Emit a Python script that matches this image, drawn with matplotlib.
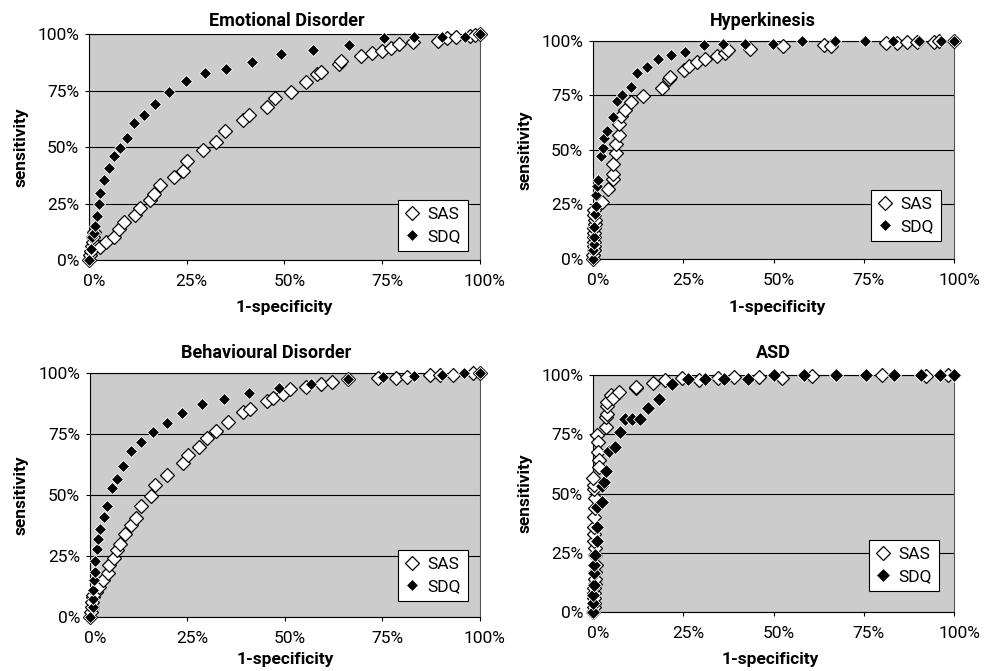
import matplotlib
matplotlib.use("Agg")
import matplotlib.pyplot as plt
from matplotlib.ticker import PercentFormatter, FixedLocator
from matplotlib.transforms import ScaledTranslation

plt.rcParams['font.family'] = ['Roboto', 'DejaVu Sans']

# ROC points: (1-specificity %, sensitivity %)
emo_sas_x = [0, 0.3, 0.5, 0.7, 0.9, 1.1, 1.3, 2.7, 4.3, 6.4, 7.6, 9.0, 11.9, 13.0, 15.7, 16.6, 18.1,
             21.8, 24.0, 25.1, 29.2, 32.6, 34.7, 39.4, 40.9, 45.6, 47.5, 51.6, 55.4, 58.4, 59.3,
             63.9, 64.6, 69.5, 72.5, 75.0, 77.4, 79.2, 83.0, 89.2, 91.5, 93.9, 97.4, 98.7, 100]
emo_sas_y = [0, 2, 4, 6, 8, 10, 12.5, 5.9, 7.8, 10.3, 13.6, 17.0, 19.9, 22.9, 26.6, 29.1, 33.1,
             36.6, 39.4, 43.9, 48.7, 52.4, 57.2, 62.0, 64.3, 67.9, 71.9, 74.3, 78.6, 82.4, 83.2,
             86.9, 88.2, 90.4, 91.6, 92.6, 93.8, 95.6, 96.3, 96.9, 98.1, 98.7, 99.0, 99.7, 100]
emo_sdq_x = [0, 0.5, 0.8, 1.2, 1.6, 2.0, 2.5, 2.9, 3.8, 5.0, 6.3, 8.0, 9.6, 11.6, 14.2, 17.0, 20.4,
             24.7, 29.7, 35.0, 41.7, 49.2, 57.4, 66.5, 75.4, 83.2, 90.3, 96.2, 100]
emo_sdq_y = [0, 5, 10, 12, 15, 19.5, 25, 29.5, 35.3, 40.8, 46, 49.6, 53.8, 60.7, 64.3, 69, 74.4,
             79.2, 82.9, 84.5, 87.4, 91.1, 92.8, 95.1, 98.1, 98.8, 98.8, 98.8, 100]

hyp_sas_x = [0, 0.1, 0.2, 0.2, 0.3, 0.3, 0.4, 0.4, 0.5, 0.5, 0.3, 0.2, 2.6, 4.2, 5.4, 5.4, 5.4, 6.3,
             6.5, 7.1, 7.3, 7.7, 8.8, 10.4, 13.9, 19.2, 21.1, 21.2, 25.2, 26.6, 28.9, 31.0, 34.2,
             36.5, 37.5, 43.6, 52.6, 64.0, 65.8, 81.2, 84.3, 87.0, 89.7, 94.5, 95.8, 100]
hyp_sas_y = [0, 2, 4, 6, 8, 10, 12, 14, 16, 18, 20, 22.5, 26.2, 32.2, 36.8, 39.0, 43.5, 48.7,
             52.8, 57.0, 61.9, 65.4, 68.5, 71.8, 74.9, 78.4, 82.5, 83.5, 86.8, 88.4, 90.5, 91.7, 93.0,
             94.5, 96.0, 96.3, 97.5, 98.2, 97.9, 98.9, 98.9, 99.4, 99.4, 99.4, 100, 100]
hyp_sdq_x = [0, 0.1, 0.2, 0.3, 0.3, 0.6, 0.7, 0.7, 1.2, 1.5, 2.2, 2.7, 3.0, 4.0, 5.4, 6.6, 8.0,
             10.4, 12.1, 14.9, 18.1, 21.5, 25.5, 30.6, 36.0, 42.2, 49.9, 58.0, 67.0, 75.3, 83.1,
             90.4, 96.5, 100]
hyp_sdq_y = [0, 4, 7, 10, 14.5, 20.5, 24.5, 29.4, 33.7, 36.3, 47.3, 51.0, 55.3, 58.8, 65.2, 72.6,
             75.3, 79.0, 85.3, 87.9, 91.7, 93.4, 95.1, 98.2, 98.6, 98.8, 98.8, 100, 100, 100, 100,
             100, 100, 100]

beh_sas_x = [0, 0.3, 0.4, 0.6, 0.7, 0.9, 1.5, 2.2, 3.4, 4.5, 5.0, 6.2, 7.0, 7.7, 9.0, 10.5, 11.8,
             13.2, 15.6, 16.7, 19.8, 23.8, 25.2, 28.0, 29.9, 32.3, 35.5, 39.3, 41.0, 45.3, 47.0,
             49.6, 51.3, 55.4, 59.2, 62.0, 66.2, 73.9, 78.6, 81.2, 87.2, 89.7, 93.2, 98.3, 100]
beh_sas_y = [0, 2, 4, 6, 8, 9, 10.2, 12.3, 15.3, 18.0, 21.2, 24.2, 27.3, 29.9, 34.0, 37.8, 40.7,
             45.6, 49.6, 54.0, 58.3, 63.1, 66.3, 69.7, 73.5, 76.4, 79.9, 84.0, 85.1, 88.4, 89.8,
             91.3, 93.3, 94.3, 95.6, 96.4, 97.7, 97.9, 97.9, 98.5, 99.3, 99.3, 99.3, 100, 100]
beh_sdq_x = [0, 0.7, 0.9, 0.9, 1.0, 1.3, 1.3, 1.7, 2.1, 2.6, 3.6, 4.4, 5.6, 7.0, 8.5, 10.4, 13.2,
             16.2, 19.8, 23.7, 28.8, 34.4, 40.7, 48.5, 56.8, 66.2, 75.2, 83.0, 90.3, 96.0, 100]
beh_sdq_y = [0, 4, 7.5, 11, 15, 18.4, 23, 28, 31.8, 36.2, 40.8, 45.5, 53, 56.4, 61.9, 68, 71.7,
             75.8, 79.5, 83.7, 87.3, 89.2, 91.7, 93.9, 95.6, 97.7, 98.2, 98.9, 99.3, 100, 100]

asd_sas_x = [0, 0.2, 0.3, 0.3, 0.4, 0.4, 0.5, 0.5, 0.6, 0.7, 0.6, 0.5, 0.4, 0.3, 0.3, 0.4, 0.5,
             0.5, 0.4, 0.3, 0.1, 1.2, 1.5, 1.5, 1.7, 1.7, 3.5, 3.5, 3.8, 3.8, 4.0, 4.9, 5.4, 7.2,
             11.8, 12.0, 16.5, 20.0, 24.6, 29.4, 34.5, 39.1, 46.1, 52.4, 60.7, 80.1, 92.1, 98.3]
asd_sas_y = [0, 2, 4, 6, 8, 10, 12, 14, 17, 20, 24, 27, 30, 33, 36, 40, 44, 48, 52, 53.5, 56.5,
             74.7, 71.6, 67.7, 64.2, 61.4, 78.2, 82.4, 83.8, 86.9, 88.8, 91.6, 90.2, 93.0, 94.4,
             95.1, 96.5, 97.9, 98.6, 97.9, 98.6, 99.3, 99.3, 99.0, 99.7, 100, 99.7, 100]
asd_sdq_x = [0, 0.1, 0.1, 0.2, 0.3, 0.4, 0.5, 1.0, 1.0, 1.2, 2.4, 2.6, 3.0, 3.5, 4.4, 6.0, 7.4,
             8.8, 10.9, 13.0, 15.1, 18.3, 21.8, 26.2, 31.1, 36.4, 42.8, 50.0, 58.3, 67.3, 75.7,
             83.3, 90.7, 96.0, 100]
asd_sdq_y = [0, 3.8, 7.3, 11.5, 16.4, 20, 24.2, 29.8, 36.1, 44.5, 46.6, 53.4, 55, 59.6, 68, 69.8,
             76.1, 81.7, 81.7, 81.7, 86.2, 89.9, 96.2, 98.2, 98.2, 98.2, 98.2, 100, 100, 100, 100,
             100, 100, 100, 100]

titles = ["Emotional Disorder", "Hyperkinesis", "Behavioural Disorder", "ASD"]
series = [(emo_sas_x, emo_sas_y, emo_sdq_x, emo_sdq_y),
          (hyp_sas_x, hyp_sas_y, hyp_sdq_x, hyp_sdq_y),
          (beh_sas_x, beh_sas_y, beh_sdq_x, beh_sdq_y),
          (asd_sas_x, asd_sas_y, asd_sdq_x, asd_sdq_y)]

W, H = 992, 671
rects = [[0.0897, 0.6125, 0.394, 0.3368],
         [0.5978, 0.614, 0.364, 0.325],
         [0.0907, 0.0805, 0.393, 0.3636],
         [0.5978, 0.0879, 0.364, 0.353]]
title_pos = [(287, 26), (763, 26), (266, 358), (773, 358)]
ylab_x = [-0.156, -0.167, -0.158, -0.167]
xlab_pos = [(0.5, -0.177), (0.511, -0.188), (0.5, -0.143), (0.49, -0.169)]
legend_anchor = [(0.97, 0.04), (0.964, 0.083), (0.969, 0.066), (0.958, 0.089)]
sdq_size = [6, 6, 6, 7]

fig = plt.figure(figsize=(W / 100, H / 100), dpi=100)
fs = 12.5

axes = []
for i in range(4):
    ax = fig.add_axes(rects[i])
    axes.append(ax)
    ax.set_facecolor('#cccccc')
    sx, sy, dx, dy = series[i]
    ax.plot(sx, sy, linestyle='none', marker='D', markersize=7.5, markerfacecolor='white',
            markeredgecolor='black', markeredgewidth=0.9, label='SAS', clip_on=False, zorder=3)
    ax.plot(dx, dy, linestyle='none', marker='D', markersize=sdq_size[i], markerfacecolor='black',
            markeredgecolor='white', markeredgewidth=0.6, label='SDQ', clip_on=False, zorder=4)
    ax.set_xlim(0, 100)
    ax.set_ylim(0, 100)
    ax.xaxis.set_major_locator(FixedLocator([0, 25, 50, 75, 100]))
    ax.yaxis.set_major_locator(FixedLocator([0, 25, 50, 75, 100]))
    ax.xaxis.set_major_formatter(PercentFormatter(decimals=0))
    ax.yaxis.set_major_formatter(PercentFormatter(decimals=0))
    ax.grid(axis='y', color='black', linewidth=0.8)
    ax.set_axisbelow(True)
    for side in ['left', 'bottom', 'top']:
        ax.spines[side].set_color('black')
        ax.spines[side].set_linewidth(0.8)
    ax.spines['right'].set_color('#555555')
    ax.tick_params(direction='out', length=3, width=0.8, labelsize=fs, pad=4)
    ax.tick_params(axis='x', pad=7)
    fig.text(title_pos[i][0] / W, 1 - title_pos[i][1] / H, titles[i], fontsize=13,
             fontweight='bold', ha='center', va='baseline')
    ax.set_xlabel('1-specificity', fontsize=fs, fontweight='bold')
    ax.set_ylabel('sensitivity', fontsize=fs, fontweight='bold')
    ax.xaxis.set_label_coords(*xlab_pos[i])
    ax.yaxis.set_label_coords(ylab_x[i], 0.5)
    leg = ax.legend(loc='lower right', bbox_to_anchor=legend_anchor[i], fontsize=fs,
                    frameon=True, fancybox=False, framealpha=1, edgecolor='black',
                    handlelength=0.8, handletextpad=0.5, borderpad=0.4, labelspacing=0.4,
                    borderaxespad=0)
    leg.get_frame().set_linewidth(0.8)

# Excel places the x tick labels a few pixels right of their ticks
fig.canvas.draw()
shift = ScaledTranslation(5 / 100, 0, fig.dpi_scale_trans)
for ax in axes:
    for t in ax.xaxis.get_major_ticks():
        t.label1.set_transform(t.label1.get_transform() + shift)

fig.savefig('out.png', dpi=100)
